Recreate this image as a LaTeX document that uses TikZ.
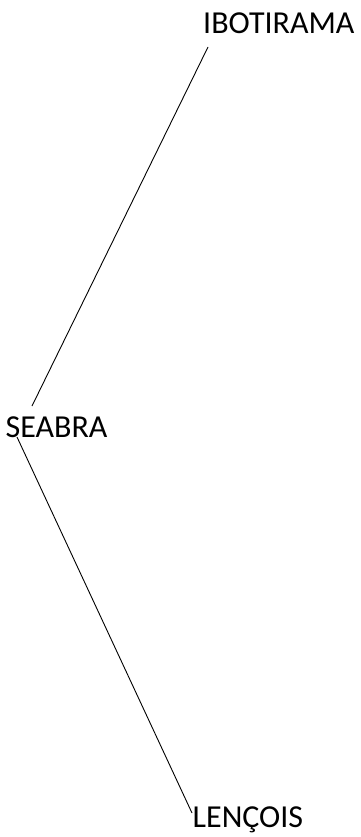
\documentclass[tikz,border=0pt]{standalone}
\usepackage{fontspec}
\setmainfont{Carlito}
\usetikzlibrary{calc}
\begin{document}
\begin{tikzpicture}[x=1pt,y=-1pt,
  lbl/.style={anchor=base west,inner sep=0pt,font=\fontsize{32}{37}\selectfont},
  conn/.style={draw=black,line width=0.9pt}]
\useasboundingbox (0,0) rectangle (360,837);
\node[lbl] (ibo) at (203,34) {IBOTIRAMA};
\node[lbl] (sea) at (5.5,437) {SEABRA};
\node[lbl] (len) at (192.5,827) {LENÇOIS};
\coordinate (a1) at ($(ibo.base west)+(5,13)$);
\coordinate (a2) at ($(sea.base west)+(26.5,-31)$);
\coordinate (b1) at ($(sea.base west)+(11.5,0)$);
\coordinate (b2) at ($(len.base west)+(-0.5,-14)$);
\draw[conn] (a1) -- (a2);
\draw[conn] (b1) -- (b2);
\end{tikzpicture}
\end{document}
